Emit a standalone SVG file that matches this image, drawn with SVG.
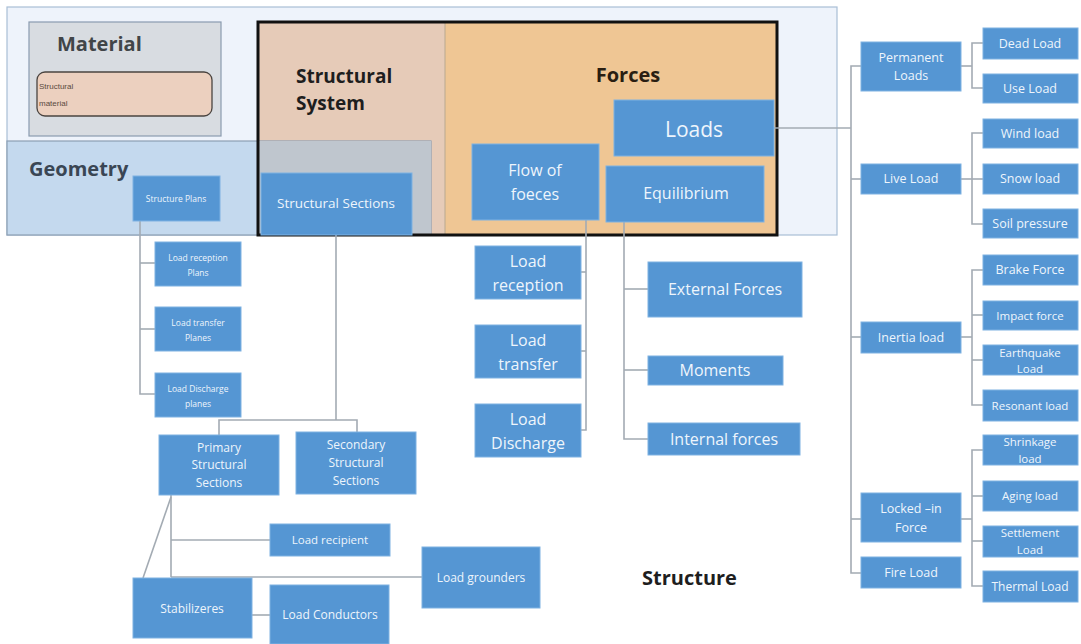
<svg xmlns="http://www.w3.org/2000/svg" width="1081" height="644" viewBox="0 0 1081 644">
  <style>
    .box { fill: #5596d3; stroke: #7fb2e2; stroke-width: 1; }
    .t { font-family: "Open Sans", "Liberation Sans", sans-serif; fill: #eef5fc; text-anchor: middle; }
    .hd { font-family: "Open Sans", "Liberation Sans", sans-serif; font-weight: bold; }
    .ln { fill: none; stroke: #a3abb3; stroke-width: 1.6; }
  </style>

  <!-- background frames -->
  <g id="frame">
    <rect x="7" y="7" width="830" height="228" fill="#eef3fb" stroke="#a9bfd6" stroke-width="1.2"/>
  </g>

  <g id="material">
    <rect x="29" y="22" width="192" height="114" fill="#d8dce1" stroke="#8a9bb0" stroke-width="1.2"/>
    <text x="57" y="51" class="hd" font-size="20" fill="#414548">Material</text>
    <g id="structural-material">
      <rect x="37" y="72" width="175" height="44" rx="8" fill="#ecd0bf" stroke="#4a4440" stroke-width="1.3"/>
      <text x="39" y="89" font-family="'Liberation Sans', sans-serif" font-size="8" fill="#5a4a40">Structural</text>
      <text x="39" y="106" font-family="'Liberation Sans', sans-serif" font-size="8" fill="#5a4a40">material</text>
    </g>
  </g>

  <g id="structural-system">
    <rect x="258" y="22" width="187" height="213" fill="#e6cbb8"/>
    <text x="296" y="83" class="hd" font-size="19" fill="#1e1e1e">Structural</text>
    <text x="296" y="110" class="hd" font-size="19" fill="#1e1e1e">System</text>
  </g>

  <g id="forces">
    <rect x="445" y="22" width="332" height="213" fill="#efc694"/>
    <line x1="445" y1="22" x2="445" y2="235" stroke="#b9a890" stroke-width="1"/>
    <text x="628" y="82" class="hd" font-size="20" fill="#2a1e12" text-anchor="middle">Forces</text>
  </g>

  <g id="geometry">
    <rect x="7" y="141" width="424" height="94" fill="#c4d9ee" stroke="#8d9fb3" stroke-width="1.2"/>
    <rect x="258" y="141" width="173" height="94" fill="#bfc6ce"/>
    <text x="29" y="176" class="hd" font-size="20" fill="#3a4654">Geometry</text>
  </g>

  <!-- heavy outline round structural system and forces -->
  <rect x="258" y="22" width="519" height="213" fill="none" stroke="#111" stroke-width="3"/>

  <!-- connectors -->
  <g id="connectors" class="ln">
    <!-- geometry: structure plans -->
    <polyline points="140,221 140,394 155,394"/>
    <line x1="140" y1="263" x2="155" y2="263"/>
    <line x1="140" y1="329" x2="155" y2="329"/>
    <!-- structural sections -->
    <line x1="336" y1="235" x2="336" y2="420"/>
    <polyline points="219,435 219,420 357,420 357,432"/>
    <!-- primary structural sections -->
    <line x1="171" y1="495" x2="171" y2="577"/>
    <line x1="171" y1="497" x2="143" y2="578"/>
    <line x1="171" y1="540" x2="270" y2="540"/>
    <line x1="171" y1="577" x2="422" y2="577"/>
    <line x1="252" y1="615" x2="270" y2="615"/>
    <!-- flow of forces -->
    <polyline points="586,220 586,430 581,430"/>
    <line x1="581" y1="272" x2="586" y2="272"/>
    <line x1="581" y1="351" x2="586" y2="351"/>
    <!-- equilibrium -->
    <polyline points="624,222 624,439 648,439"/>
    <line x1="624" y1="289" x2="648" y2="289"/>
    <line x1="624" y1="370" x2="648" y2="370"/>
    <!-- loads trunk -->
    <line x1="774" y1="128" x2="851" y2="128"/>
    <polyline points="861,66 851,66 851,573 861,573"/>
    <line x1="851" y1="179" x2="861" y2="179"/>
    <line x1="851" y1="337" x2="861" y2="337"/>
    <line x1="851" y1="519" x2="861" y2="519"/>
    <!-- permanent loads -->
    <line x1="961" y1="66" x2="972" y2="66"/>
    <polyline points="983,43 972,43 972,88 983,88"/>
    <!-- live load -->
    <line x1="961" y1="179" x2="983" y2="179"/>
    <polyline points="983,133 972,133 972,224 983,224"/>
    <!-- inertia load -->
    <line x1="961" y1="337" x2="972" y2="337"/>
    <polyline points="983,270 972,270 972,405 983,405"/>
    <line x1="972" y1="315" x2="983" y2="315"/>
    <line x1="972" y1="360" x2="983" y2="360"/>
    <!-- locked-in force -->
    <line x1="961" y1="519" x2="972" y2="519"/>
    <polyline points="983,450 972,450 972,586 983,586"/>
    <line x1="972" y1="496" x2="983" y2="496"/>
    <line x1="972" y1="541" x2="983" y2="541"/>
  </g>

  <!-- forces nodes -->
  <g id="loads">
    <rect class="box" x="614" y="100" width="160" height="56"/>
    <text class="t" x="694" y="137" font-size="21">Loads</text>
  </g>
  <g id="flow-of-foeces">
    <rect class="box" x="472" y="144" width="127" height="76"/>
    <text class="t" x="535" y="176" font-size="16">Flow of</text>
    <text class="t" x="535" y="200" font-size="16">foeces</text>
  </g>
  <g id="equilibrium">
    <rect class="box" x="606" y="166" width="158" height="56"/>
    <text class="t" x="686" y="199" font-size="16">Equilibrium</text>
  </g>

  <!-- geometry nodes -->
  <g id="structure-plans">
    <rect class="box" x="133" y="176" width="87" height="45"/>
    <text class="t" x="176" y="202" font-size="8.5" fill="#92c0ea">Structure Plans</text>
  </g>
  <g id="structural-sections">
    <rect class="box" x="261" y="173" width="151" height="62"/>
    <text class="t" x="336" y="208" font-size="13.5" fill="#c9dff3">Structural Sections</text>
  </g>
  <g id="load-reception-plans">
    <rect class="box" x="155" y="242" width="86" height="44"/>
    <text class="t" x="198" y="261" font-size="8.5">Load reception</text>
    <text class="t" x="198" y="276" font-size="8.5">Plans</text>
  </g>
  <g id="load-transfer-plans">
    <rect class="box" x="155" y="307" width="86" height="44"/>
    <text class="t" x="198" y="326" font-size="8.5">Load transfer</text>
    <text class="t" x="198" y="341" font-size="8.5">Planes</text>
  </g>
  <g id="load-discharge-plans">
    <rect class="box" x="155" y="373" width="86" height="44"/>
    <text class="t" x="198" y="392" font-size="8.5">Load Discharge</text>
    <text class="t" x="198" y="407" font-size="8.5">planes</text>
  </g>
  <g id="primary-structural-sections">
    <rect class="box" x="159" y="435" width="120" height="60"/>
    <text class="t" x="219" y="452" font-size="12">Primary</text>
    <text class="t" x="219" y="469" font-size="12">Structural</text>
    <text class="t" x="219" y="487" font-size="12">Sections</text>
  </g>
  <g id="secondary-structural-sections">
    <rect class="box" x="296" y="432" width="120" height="62"/>
    <text class="t" x="356" y="449" font-size="12">Secondary</text>
    <text class="t" x="356" y="467" font-size="12">Structural</text>
    <text class="t" x="356" y="485" font-size="12">Sections</text>
  </g>
  <g id="load-recipient">
    <rect class="box" x="270" y="524" width="120" height="32"/>
    <text class="t" x="330" y="544" font-size="11.5">Load recipient</text>
  </g>
  <g id="load-grounders">
    <rect class="box" x="422" y="547" width="118" height="61"/>
    <text class="t" x="481" y="582" font-size="12">Load grounders</text>
  </g>
  <g id="stabilizeres">
    <rect class="box" x="133" y="578" width="119" height="60"/>
    <text class="t" x="192" y="613" font-size="12">Stabilizeres</text>
  </g>
  <g id="load-conductors">
    <rect class="box" x="270" y="585" width="119" height="59"/>
    <text class="t" x="330" y="619" font-size="12">Load Conductors</text>
  </g>

  <!-- flow / equilibrium children -->
  <g id="load-reception">
    <rect class="box" x="475" y="246" width="106" height="53"/>
    <text class="t" x="528" y="267" font-size="16">Load</text>
    <text class="t" x="528" y="291" font-size="16">reception</text>
  </g>
  <g id="load-transfer">
    <rect class="box" x="475" y="325" width="106" height="53"/>
    <text class="t" x="528" y="346" font-size="16">Load</text>
    <text class="t" x="528" y="370" font-size="16">transfer</text>
  </g>
  <g id="load-discharge">
    <rect class="box" x="475" y="404" width="106" height="53"/>
    <text class="t" x="528" y="425" font-size="16">Load</text>
    <text class="t" x="528" y="449" font-size="16">Discharge</text>
  </g>
  <g id="external-forces">
    <rect class="box" x="648" y="262" width="154" height="55"/>
    <text class="t" x="725" y="295" font-size="16">External Forces</text>
  </g>
  <g id="moments">
    <rect class="box" x="648" y="356" width="135" height="29"/>
    <text class="t" x="715" y="376" font-size="16">Moments</text>
  </g>
  <g id="internal-forces">
    <rect class="box" x="648" y="423" width="152" height="32"/>
    <text class="t" x="724" y="445" font-size="16">Internal forces</text>
  </g>

  <!-- load categories -->
  <g id="permanent-loads">
    <rect class="box" x="861" y="42" width="100" height="49"/>
    <text class="t" x="911" y="62" font-size="12.5">Permanent</text>
    <text class="t" x="911" y="80" font-size="12.5">Loads</text>
  </g>
  <g id="live-load">
    <rect class="box" x="861" y="164" width="100" height="30"/>
    <text class="t" x="911" y="183" font-size="12.5">Live Load</text>
  </g>
  <g id="inertia-load">
    <rect class="box" x="861" y="322" width="100" height="31"/>
    <text class="t" x="911" y="342" font-size="12.5">Inertia load</text>
  </g>
  <g id="locked-in-force">
    <rect class="box" x="861" y="493" width="100" height="49"/>
    <text class="t" x="911" y="513" font-size="12.5">Locked –in</text>
    <text class="t" x="911" y="532" font-size="12.5">Force</text>
  </g>
  <g id="fire-load">
    <rect class="box" x="861" y="557" width="100" height="31"/>
    <text class="t" x="911" y="577" font-size="12.5">Fire Load</text>
  </g>

  <!-- load types -->
  <g id="dead-load">
    <rect class="box" x="983" y="28" width="95" height="31"/>
    <text class="t" x="1030" y="48" font-size="12.5">Dead Load</text>
  </g>
  <g id="use-load">
    <rect class="box" x="983" y="74" width="95" height="29"/>
    <text class="t" x="1030" y="93" font-size="12.5">Use Load</text>
  </g>
  <g id="wind-load">
    <rect class="box" x="983" y="119" width="95" height="29"/>
    <text class="t" x="1030" y="138" font-size="12.5">Wind load</text>
  </g>
  <g id="snow-load">
    <rect class="box" x="983" y="164" width="95" height="30"/>
    <text class="t" x="1030" y="183" font-size="12.5">Snow load</text>
  </g>
  <g id="soil-pressure">
    <rect class="box" x="983" y="209" width="95" height="29"/>
    <text class="t" x="1030" y="228" font-size="12.5">Soil pressure</text>
  </g>
  <g id="brake-force">
    <rect class="box" x="983" y="255" width="95" height="30"/>
    <text class="t" x="1030" y="274" font-size="12.5">Brake Force</text>
  </g>
  <g id="impact-force">
    <rect class="box" x="983" y="301" width="95" height="29"/>
    <text class="t" x="1030" y="320" font-size="11.5">Impact force</text>
  </g>
  <g id="earthquake-load">
    <rect class="box" x="983" y="345" width="95" height="30"/>
    <text class="t" x="1030" y="357" font-size="11.5">Earthquake</text>
    <text class="t" x="1030" y="373" font-size="11.5">Load</text>
  </g>
  <g id="resonant-load">
    <rect class="box" x="983" y="390" width="95" height="31"/>
    <text class="t" x="1030" y="410" font-size="11.5">Resonant load</text>
  </g>
  <g id="shrinkage-load">
    <rect class="box" x="983" y="435" width="95" height="30"/>
    <text class="t" x="1030" y="446" font-size="11.5">Shrinkage</text>
    <text class="t" x="1030" y="463" font-size="11.5">load</text>
  </g>
  <g id="aging-load">
    <rect class="box" x="983" y="481" width="95" height="30"/>
    <text class="t" x="1030" y="500" font-size="11.5">Aging load</text>
  </g>
  <g id="settlement-load">
    <rect class="box" x="983" y="526" width="95" height="31"/>
    <text class="t" x="1030" y="537" font-size="11.5">Settlement</text>
    <text class="t" x="1030" y="554" font-size="11.5">Load</text>
  </g>
  <g id="thermal-load">
    <rect class="box" x="983" y="571" width="95" height="31"/>
    <text class="t" x="1030" y="591" font-size="12">Thermal Load</text>
  </g>

  <g id="structure-title">
    <text x="642" y="585" class="hd" font-size="20" fill="#1e1e1e">Structure</text>
  </g>
</svg>
